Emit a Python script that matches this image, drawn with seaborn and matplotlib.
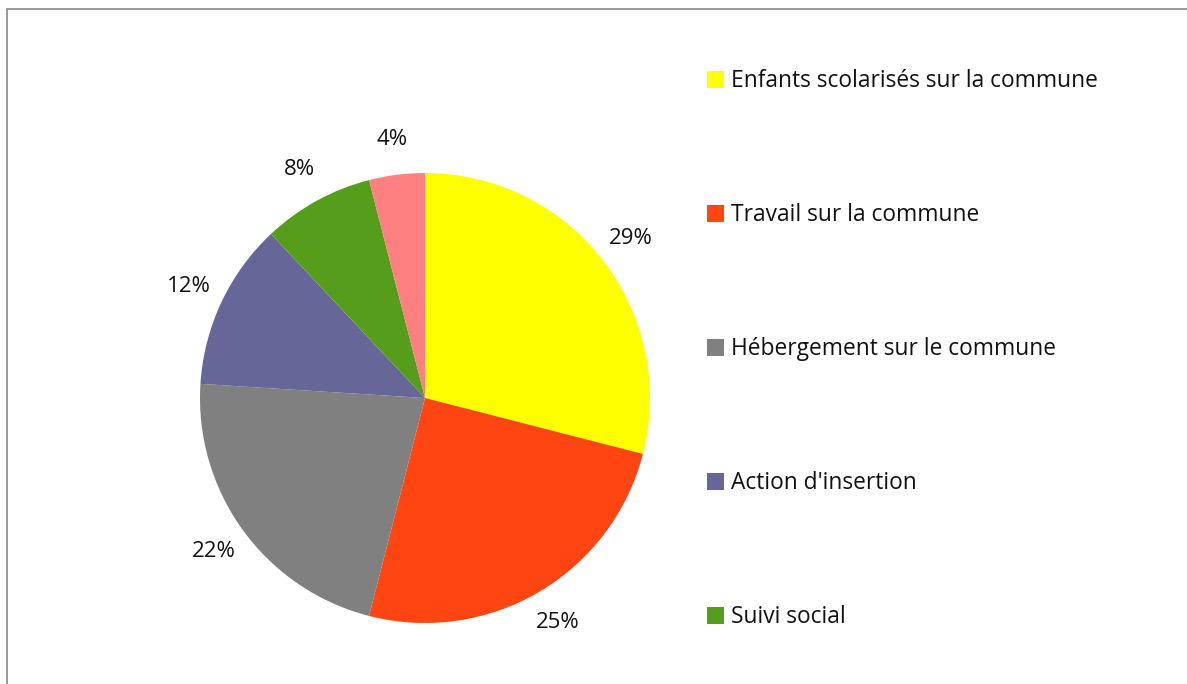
import matplotlib
matplotlib.use("Agg")
import matplotlib.pyplot as plt
import seaborn as sns
from matplotlib.patches import Rectangle

categories = ["Enfants scolarisés sur la commune", "Travail sur la commune",
              "Hébergement sur le commune", "Action d'insertion", "Suivi social", "Autre"]
shares = [29, 25, 22, 12, 8, 4]
pct_labels = ["29%", "25%", "22%", "12%", "8%", "4%"]
colors = ["#FFFF00", "#FF4511", "#808080", "#666699", "#579D1C", "#FF8080"]

sns.set_theme(style="white")
plt.rcParams["font.family"] = ["Open Sans", "DejaVu Sans"]

fig = plt.figure(figsize=(11.87, 6.84), dpi=100)
W, H = 1187, 684

# chart frame (cut off at right and bottom)
fig.add_artist(Rectangle((7 / W, -0.1), 1.2, 1 - 9 / H + 0.1, transform=fig.transFigure,
                         fill=False, edgecolor="#888888", linewidth=1.2))

cx, cy, r = 425, 398, 225
ax = fig.add_axes([(cx - r) / W, (H - cy - r) / H, 2 * r / W, 2 * r / H])
wedges, texts = ax.pie(shares, colors=colors, startangle=90, counterclock=False,
                       labels=pct_labels, labeldistance=1.16,
                       textprops={"fontsize": 16, "color": "#111111"},
                       wedgeprops={"linewidth": 0})
for t in texts:
    t.set_horizontalalignment("center")
    t.set_verticalalignment("center")
ax.set_aspect("equal")
ax.set_xlim(-1, 1)
ax.set_ylim(-1, 1)
ax.axis("off")

leg = fig.legend(wedges[:5], categories[:5], loc="upper left",
                 bbox_to_anchor=(696 / W, 1 - 58 / H), frameon=False,
                 fontsize=16.4, labelspacing=4.83, handlelength=0.72,
                 handleheight=0.72, handletextpad=0.3, borderpad=0)
for t in leg.get_texts():
    t.set_color("#111111")

fig.savefig("out.png", dpi=100)
